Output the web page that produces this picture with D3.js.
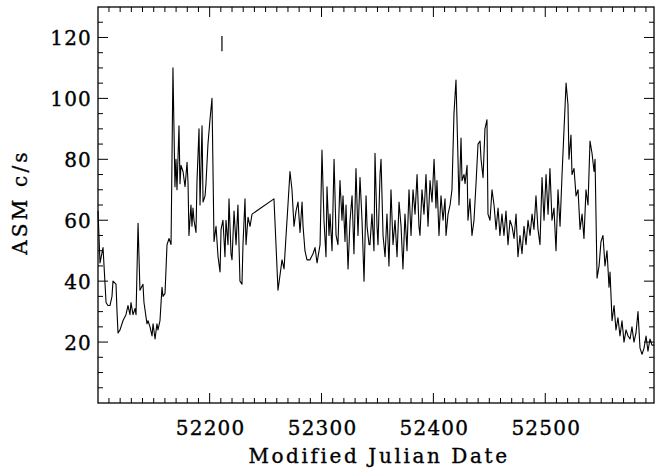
<!DOCTYPE html>
<html>
<head>
<meta charset="utf-8">
<script src="https://cdn.jsdelivr.net/npm/d3@7"></script>
<style>
  html, body { margin: 0; padding: 0; background: #fff; }
  svg { display: block; }
  text { font-family: "DejaVu Serif", "Liberation Serif", serif; fill: #000; stroke: #000; stroke-width: 0.35; }
</style>
</head>
<body>
<svg id="chart" width="655" height="470"></svg>
<script>
// ASM one-day count rates (c/s) versus Modified Julian Date
const mjd = [
  52100.2, 52102.0, 52104.7, 52105.6, 52107.4, 52109.1, 52110.9, 52112.7, 52113.6, 52116.3,
  52117.2, 52118.1, 52119.9, 52122.5, 52125.2, 52127.0, 52128.8, 52129.7, 52131.5, 52133.3,
  52134.2, 52136.0, 52137.7, 52140.4, 52141.3, 52144.0, 52144.9, 52146.7, 52148.5, 52149.4,
  52151.2, 52152.9, 52153.8, 52155.6, 52157.4, 52158.3, 52160.1, 52161.9, 52163.7, 52165.5,
  52166.4, 52167.2, 52169.0, 52169.9, 52170.8, 52172.6, 52173.5, 52174.4, 52176.2, 52178.0,
  52179.8, 52180.7, 52181.5, 52183.3, 52184.2, 52185.1, 52186.0, 52187.8, 52188.7, 52190.5,
  52191.4, 52193.2, 52194.1, 52195.9, 52196.7, 52198.5, 52200.3, 52202.1, 52203.9, 52205.7,
  52207.5, 52209.3, 52210.2, 52211.9, 52213.7, 52214.6, 52216.4, 52217.3, 52219.1, 52220.0,
  52221.8, 52223.6, 52225.3, 52227.1, 52228.9, 52229.8, 52231.6, 52232.5, 52234.3, 52236.1,
  52237.9, 52257.5, 52261.1, 52264.7, 52266.5, 52268.3, 52270.0, 52271.8, 52273.6, 52275.4,
  52277.2, 52279.0, 52280.8, 52282.6, 52283.5, 52285.2, 52287.0, 52289.7, 52292.4, 52294.2,
  52296.0, 52298.7, 52300.4, 52302.2, 52304.0, 52304.9, 52306.7, 52307.6, 52309.4, 52311.2,
  52313.0, 52314.7, 52316.5, 52318.3, 52319.2, 52321.0, 52321.9, 52323.7, 52325.5, 52327.3,
  52329.0, 52330.8, 52332.6, 52334.4, 52336.2, 52338.0, 52339.8, 52340.7, 52342.5, 52343.3,
  52345.1, 52346.9, 52347.8, 52349.6, 52350.5, 52352.3, 52353.2, 52355.0, 52356.8, 52358.5,
  52360.3, 52362.1, 52363.9, 52365.7, 52367.5, 52369.3, 52371.1, 52372.8, 52374.6, 52376.4,
  52378.2, 52380.0, 52381.8, 52383.6, 52385.4, 52387.1, 52388.0, 52389.8, 52391.6, 52393.4,
  52395.2, 52397.0, 52398.8, 52400.6, 52402.3, 52403.2, 52405.0, 52406.8, 52408.6, 52410.4,
  52411.3, 52413.1, 52414.9, 52416.6, 52418.4, 52420.2, 52422.0, 52422.9, 52424.7, 52425.6,
  52427.4, 52428.3, 52430.1, 52430.9, 52432.7, 52434.5, 52436.3, 52438.1, 52439.9, 52441.7,
  52442.6, 52444.4, 52446.1, 52447.9, 52448.8, 52450.6, 52452.4, 52454.2, 52456.0, 52457.8,
  52459.5, 52461.3, 52463.1, 52464.9, 52466.7, 52468.5, 52470.3, 52472.1, 52473.9, 52475.6,
  52477.4, 52479.2, 52481.0, 52482.8, 52484.6, 52486.4, 52488.2, 52489.9, 52491.7, 52493.5,
  52495.3, 52497.1, 52498.9, 52500.7, 52502.5, 52504.2, 52506.0, 52507.8, 52509.6, 52511.4,
  52513.2, 52515.0, 52516.8, 52518.6, 52520.3, 52521.2, 52523.0, 52523.9, 52525.7, 52527.5,
  52529.3, 52531.1, 52532.9, 52534.6, 52536.4, 52538.2, 52540.0, 52541.8, 52543.6, 52544.5,
  52546.3, 52548.1, 52549.8, 52551.6, 52553.4, 52555.2, 52557.0, 52557.9, 52559.7, 52561.5,
  52563.2, 52565.0, 52566.8, 52568.6, 52570.4, 52572.2, 52574.0, 52575.8, 52577.5, 52579.3,
  52581.1, 52582.9, 52584.7, 52586.5, 52588.3, 52590.1, 52591.8, 52593.6, 52595.4, 52597.2
];
const rate = [
  63, 46, 51, 45, 33, 32, 32, 35, 40, 39,
  30, 23, 24, 27, 29, 32, 29, 33, 29, 31,
  29, 59, 37, 39, 33, 26, 27, 25, 22, 26,
  21, 26, 24, 27, 38, 35, 36, 52, 54, 52,
  82, 110, 71, 80, 70, 91, 72, 78, 76, 71,
  79, 72, 55, 65, 58, 64, 60, 56, 73, 90,
  65, 91, 66, 68, 72, 85, 93, 100, 53, 58,
  48, 43, 57, 60, 48, 60, 52, 67, 49, 47,
  63, 52, 65, 40, 39, 52, 67, 52, 61, 58,
  62, 67, 37, 47, 44, 55, 65, 76, 70, 58,
  63, 66, 56, 66, 58, 50, 47, 47, 49, 51,
  46, 52, 83, 60, 48, 71, 55, 62, 50, 80,
  55, 52, 73, 60, 68, 53, 65, 44, 60, 68,
  49, 77, 55, 74, 60, 40, 68, 58, 52, 52,
  62, 50, 82, 58, 52, 75, 80, 55, 48, 62,
  45, 70, 52, 60, 48, 66, 58, 44, 62, 50,
  70, 55, 70, 62, 75, 58, 55, 70, 62, 75,
  58, 73, 66, 80, 64, 73, 55, 68, 60, 67,
  55, 62, 65, 70, 95, 106, 80, 65, 87, 73,
  75, 72, 78, 60, 67, 55, 60, 72, 85, 86,
  80, 74, 90, 93, 62, 60, 70, 65, 57, 64,
  55, 62, 55, 63, 52, 60, 58, 54, 62, 48,
  55, 49, 58, 52, 60, 55, 62, 57, 68, 57,
  52, 74, 60, 75, 62, 77, 60, 64, 50, 70,
  58, 75, 90, 105, 98, 80, 88, 75, 77, 68,
  70, 57, 62, 54, 70, 65, 86, 82, 76, 80,
  41, 45, 53, 55, 45, 50, 38, 43, 27, 32,
  24, 28, 22, 27, 20, 24, 22, 21, 25, 20,
  23, 30, 18, 16, 18, 22, 17, 21, 19, 19
];
// Representative error bar drawn above the light curve
const barMjd = [52211];
const barLow = [115.5];
const barHigh = [120.5];

const xDomain = [52100.2, 52597.2];
const yDomain = [0, 130];
const xMajor = [52200, 52300, 52400, 52500];
const xLabels = ["52200", "52300", "52400", "52500"];
const yMajor = [20, 40, 60, 80, 100, 120];
const yLabels = ["20", "40", "60", "80", "100", "120"];

const svg = d3.select("#chart");
const pL = 98, pR = 654, pT = 7, pB = 403;

const x = d3.scaleLinear().domain(xDomain).range([pL, pR]);
const y = d3.scaleLinear().domain(yDomain).range([pB, pT]);

const xMinor = d3.range(52110, 52597, 10).filter(v => v % 100 !== 0);
const yMinor = d3.range(5, 130, 5).filter(v => v % 20 !== 0);

const majorLen = 10, minorLen = 5;

// Ticks on all four sides of the frame
const ticks = svg.append("g").attr("stroke", "#000").attr("stroke-width", 1);
xMajor.forEach(v => {
  ticks.append("line").attr("x1", x(v)).attr("x2", x(v)).attr("y1", pB).attr("y2", pB - majorLen);
  ticks.append("line").attr("x1", x(v)).attr("x2", x(v)).attr("y1", pT).attr("y2", pT + majorLen);
});
xMinor.forEach(v => {
  ticks.append("line").attr("x1", x(v)).attr("x2", x(v)).attr("y1", pB).attr("y2", pB - minorLen);
  ticks.append("line").attr("x1", x(v)).attr("x2", x(v)).attr("y1", pT).attr("y2", pT + minorLen);
});
yMajor.forEach(v => {
  ticks.append("line").attr("y1", y(v)).attr("y2", y(v)).attr("x1", pL).attr("x2", pL + majorLen);
  ticks.append("line").attr("y1", y(v)).attr("y2", y(v)).attr("x1", pR).attr("x2", pR - majorLen);
});
yMinor.forEach(v => {
  ticks.append("line").attr("y1", y(v)).attr("y2", y(v)).attr("x1", pL).attr("x2", pL + minorLen);
  ticks.append("line").attr("y1", y(v)).attr("y2", y(v)).attr("x1", pR).attr("x2", pR - minorLen);
});

// Frame
svg.append("rect")
  .attr("x", pL).attr("y", pT)
  .attr("width", pR - pL).attr("height", pB - pT)
  .attr("fill", "none").attr("stroke", "#000").attr("stroke-width", 1.3);

// Tick labels
svg.append("g").selectAll("text")
  .data(xMajor.map((v, i) => [v, xLabels[i]]))
  .join("text")
  .attr("x", d => x(d[0]) + 1).attr("y", 435)
  .attr("text-anchor", "middle")
  .attr("font-size", 20).attr("letter-spacing", 1.2)
  .text(d => d[1]);

svg.append("g").selectAll("text")
  .data(yMajor.map((v, i) => [v, yLabels[i]]))
  .join("text")
  .attr("x", 92).attr("y", d => y(d[0]) + 7.5)
  .attr("text-anchor", "end")
  .attr("font-size", 20).attr("letter-spacing", 1.2)
  .text(d => d[1]);

// Axis titles
svg.append("text")
  .attr("x", 379).attr("y", 463)
  .attr("text-anchor", "middle")
  .attr("font-size", 20).attr("letter-spacing", 2.6)
  .text("Modified Julian Date");

svg.append("text")
  .attr("transform", "translate(27,202) rotate(-90)")
  .attr("text-anchor", "middle")
  .attr("font-size", 20).attr("letter-spacing", 3.2)
  .text("ASM c/s");

// Light curve
const pts = mjd.map((m, i) => [m, rate[i]]);
svg.append("path")
  .datum(pts)
  .attr("fill", "none")
  .attr("stroke", "#000")
  .attr("stroke-width", 1.1)
  .attr("stroke-linejoin", "round")
  .attr("d", d3.line().x(d => x(d[0])).y(d => y(d[1])));

// Error bar
svg.append("g").selectAll("line")
  .data(barMjd.map((m, i) => [m, barLow[i], barHigh[i]]))
  .join("line")
  .attr("x1", d => x(d[0])).attr("x2", d => x(d[0]))
  .attr("y1", d => y(d[1])).attr("y2", d => y(d[2]))
  .attr("stroke", "#000").attr("stroke-width", 1.2);
</script>
</body>
</html>
